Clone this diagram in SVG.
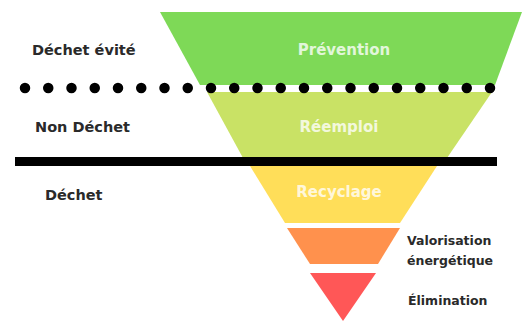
<svg xmlns="http://www.w3.org/2000/svg" width="525" height="321" viewBox="0 0 525 321">
  <style>
    .lbl { font-family: "DejaVu Sans", "Liberation Sans", sans-serif; font-weight: bold; fill: #2a2a2a; }
    .side { font-size: 14.5px; }
    .small { font-size: 12.5px; }
    .inner { font-family: "DejaVu Sans", "Liberation Sans", sans-serif; font-weight: bold; font-size: 15px; fill: #ffffff; fill-opacity: 0.8; text-anchor: middle; }
  </style>
  <rect width="525" height="321" fill="#ffffff"/>
  <g id="prevention">
    <polygon points="160,12 522,12 495,85 200,85" fill="#7ED957"/>
    <text class="inner" x="344" y="55">Prévention</text>
  </g>
  <g id="reemploi">
    <polygon points="207,92 492,92 447,158 243,158" fill="#C9E265"/>
    <text class="inner" x="339" y="132">Réemploi</text>
  </g>
  <g id="recyclage">
    <polygon points="250,166 437,166 400,223 285,223" fill="#FFDE59"/>
    <text class="inner" x="339" y="197">Recyclage</text>
  </g>
  <g id="valorisation">
    <polygon points="287,228 400,228 378,264 310,264" fill="#FF914D"/>
    <text class="lbl small" x="407" y="245">Valorisation</text>
    <text class="lbl small" x="407" y="265">énergétique</text>
  </g>
  <g id="elimination">
    <polygon points="310,273 376,273 343,321" fill="#FF5757"/>
    <text class="lbl small" x="408" y="305">Élimination</text>
  </g>
  <g id="labels">
    <text class="lbl side" x="32" y="55">Déchet évité</text>
    <text class="lbl side" x="35" y="132">Non Déchet</text>
    <text class="lbl side" x="45" y="200">Déchet</text>
  </g>
  <g id="connectors">
    <line x1="25" y1="88" x2="491" y2="88" stroke="#000" stroke-width="10.5" stroke-linecap="round" stroke-dasharray="0 23.25"/>
    <rect x="15" y="157" width="482" height="9" fill="#000"/>
  </g>
</svg>
